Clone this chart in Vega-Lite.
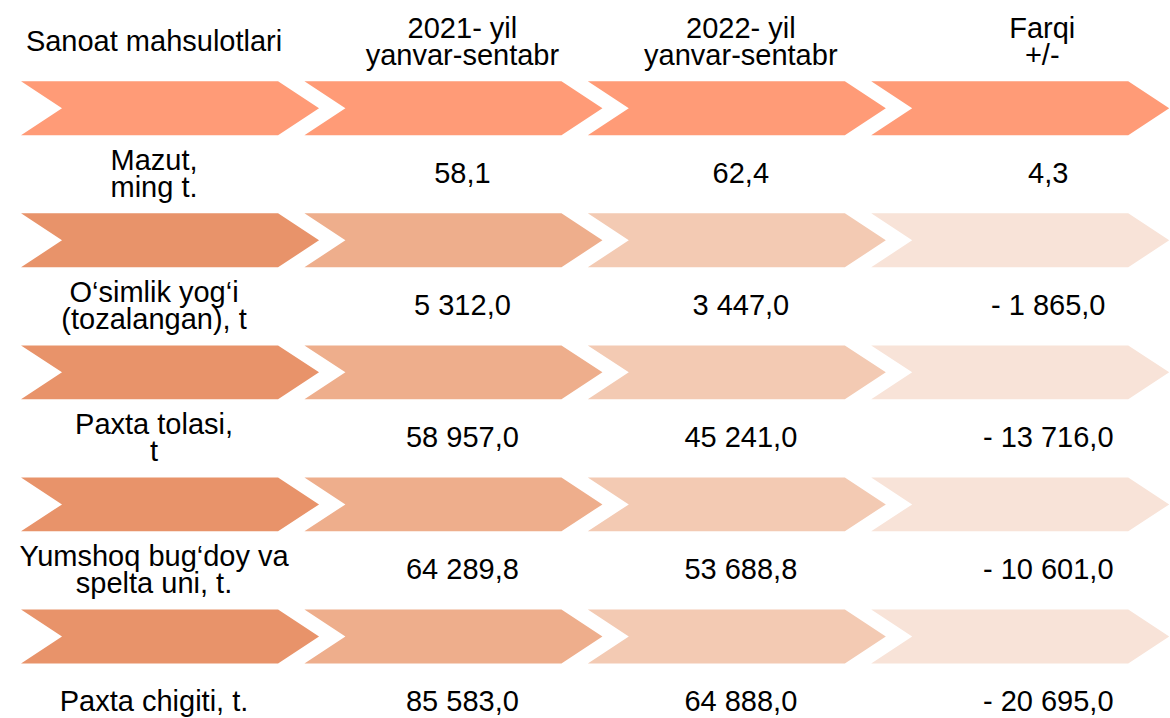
{
  "$schema": "https://vega.github.io/schema/vega-lite/v6.json",
  "width": 1170,
  "height": 718,
  "autosize": {"type": "fit", "contains": "padding"},
  "padding": 0,
  "background": "white",
  "config": {"view": {"stroke": null}, "text": {"font": "Liberation Sans", "fontSize": 29, "lineHeight": 27, "lineBreak": "\n", "align": "center", "baseline": "middle", "color": "black"}},
  "datasets": {
    "chevrons": [
      {"row": 0, "col": 1, "tone": "h"}, {"row": 0, "col": 2, "tone": "h"}, {"row": 0, "col": 3, "tone": "h"}, {"row": 0, "col": 4, "tone": "h"},
      {"row": 1, "col": 1, "tone": "c1"}, {"row": 1, "col": 2, "tone": "c2"}, {"row": 1, "col": 3, "tone": "c3"}, {"row": 1, "col": 4, "tone": "c4"},
      {"row": 2, "col": 1, "tone": "c1"}, {"row": 2, "col": 2, "tone": "c2"}, {"row": 2, "col": 3, "tone": "c3"}, {"row": 2, "col": 4, "tone": "c4"},
      {"row": 3, "col": 1, "tone": "c1"}, {"row": 3, "col": 2, "tone": "c2"}, {"row": 3, "col": 3, "tone": "c3"}, {"row": 3, "col": 4, "tone": "c4"},
      {"row": 4, "col": 1, "tone": "c1"}, {"row": 4, "col": 2, "tone": "c2"}, {"row": 4, "col": 3, "tone": "c3"}, {"row": 4, "col": 4, "tone": "c4"}
    ],
    "cells": [
      {"row": -0.5, "col": 1, "lines": 1, "label": "Sanoat mahsulotlari"},
      {"row": -0.5, "col": 2, "lines": 2, "label": "2021- yil\nyanvar-sentabr"},
      {"row": -0.5, "col": 3, "lines": 2, "label": "2022- yil\nyanvar-sentabr"},
      {"row": -0.5, "col": 4, "lines": 2, "label": "Farqi\n+/-"},
      {"row": 0.5, "col": 1, "lines": 2, "label": "Mazut,\nming t."},
      {"row": 0.5, "col": 2, "lines": 1, "label": "58,1"},
      {"row": 0.5, "col": 3, "lines": 1, "label": "62,4"},
      {"row": 0.5, "col": 4, "lines": 1, "label": "4,3"},
      {"row": 1.5, "col": 1, "lines": 2, "label": "O‘simlik yog‘i\n(tozalangan), t"},
      {"row": 1.5, "col": 2, "lines": 1, "label": "5 312,0"},
      {"row": 1.5, "col": 3, "lines": 1, "label": "3 447,0"},
      {"row": 1.5, "col": 4, "lines": 1, "label": "- 1 865,0"},
      {"row": 2.5, "col": 1, "lines": 2, "label": "Paxta tolasi,\nt"},
      {"row": 2.5, "col": 2, "lines": 1, "label": "58 957,0"},
      {"row": 2.5, "col": 3, "lines": 1, "label": "45 241,0"},
      {"row": 2.5, "col": 4, "lines": 1, "label": "- 13 716,0"},
      {"row": 3.5, "col": 1, "lines": 2, "label": "Yumshoq bug‘doy va\nspelta uni,  t."},
      {"row": 3.5, "col": 2, "lines": 1, "label": "64 289,8"},
      {"row": 3.5, "col": 3, "lines": 1, "label": "53 688,8"},
      {"row": 3.5, "col": 4, "lines": 1, "label": "- 10 601,0"},
      {"row": 4.5, "col": 1, "lines": 1, "label": "Paxta chigiti, t."},
      {"row": 4.5, "col": 2, "lines": 1, "label": "85 583,0"},
      {"row": 4.5, "col": 3, "lines": 1, "label": "64 888,0"},
      {"row": 4.5, "col": 4, "lines": 1, "label": "- 20 695,0"}
    ]
  },
  "encoding": {
    "x": {"field": "col", "type": "quantitative", "scale": {"domain": [0.4, 4.525], "nice": false, "zero": false}, "axis": null},
    "y": {"field": "row", "type": "quantitative", "scale": {"domain": [-0.82, 4.58], "nice": false, "zero": false, "reverse": true}, "axis": null}
  },
  "layer": [
    {
      "data": {"name": "chevrons"},
      "mark": {"type": "point", "shape": "M-1,-0.181L0.725,-0.181L1,0L0.725,0.181L-1,0.181L-0.725,0Z", "filled": true, "opacity": 1, "size": 88804, "strokeWidth": 0},
      "encoding": {
        "color": {"field": "tone", "type": "nominal", "scale": {"domain": ["h", "c1", "c2", "c3", "c4"], "range": ["#FF9B77", "#E8936A", "#EEAE8C", "#F3CAB3", "#F8E3D8"]}, "legend": null}
      }
    },
    {
      "data": {"name": "cells"},
      "transform": [{"filter": "datum.col == 1 && datum.lines == 1"}],
      "mark": {"type": "text", "dx": -16},
      "encoding": {"text": {"field": "label"}}
    },
    {
      "data": {"name": "cells"},
      "transform": [{"filter": "datum.col == 1 && datum.lines == 2"}],
      "mark": {"type": "text", "dx": -16, "dy": -13},
      "encoding": {"text": {"field": "label"}}
    },
    {
      "data": {"name": "cells"},
      "transform": [{"filter": "datum.col == 2 && datum.lines == 1"}],
      "mark": {"type": "text", "dx": 9},
      "encoding": {"text": {"field": "label"}}
    },
    {
      "data": {"name": "cells"},
      "transform": [{"filter": "datum.col == 2 && datum.lines == 2"}],
      "mark": {"type": "text", "dx": 9, "dy": -13},
      "encoding": {"text": {"field": "label"}}
    },
    {
      "data": {"name": "cells"},
      "transform": [{"filter": "datum.col == 3 && datum.lines == 1"}],
      "mark": {"type": "text", "dx": 4},
      "encoding": {"text": {"field": "label"}}
    },
    {
      "data": {"name": "cells"},
      "transform": [{"filter": "datum.col == 3 && datum.lines == 2"}],
      "mark": {"type": "text", "dx": 4, "dy": -13},
      "encoding": {"text": {"field": "label"}}
    },
    {
      "data": {"name": "cells"},
      "transform": [{"filter": "datum.col == 4 && datum.lines == 1"}],
      "mark": {"type": "text", "dx": 28},
      "encoding": {"text": {"field": "label"}}
    },
    {
      "data": {"name": "cells"},
      "transform": [{"filter": "datum.col == 4 && datum.lines == 2"}],
      "mark": {"type": "text", "dx": 22, "dy": -13},
      "encoding": {"text": {"field": "label"}}
    }
  ]
}
